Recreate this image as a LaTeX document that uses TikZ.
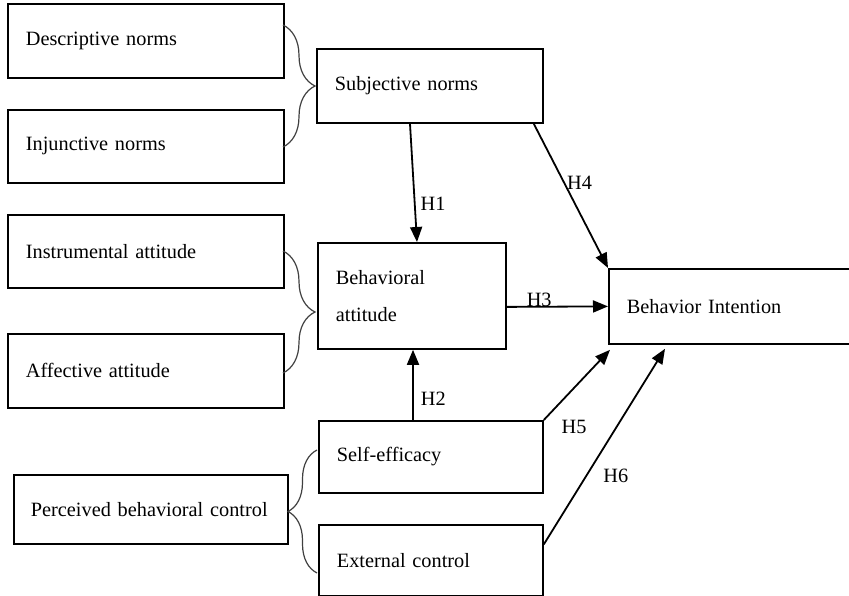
\documentclass[tikz,border=0pt]{standalone}
\usepackage{fontspec}
\setmainfont{Liberation Serif}
\usetikzlibrary{arrows.meta,calc,decorations.pathreplacing}

\begin{document}
\begin{tikzpicture}[x=1pt, y=-1pt, font=\fontsize{20.3}{24.5}\selectfont,
    box/.style={draw, line width=1.8pt, anchor=north west, align=left, inner xsep=18pt, inner ysep=0pt},
    arr/.style={line width=1.8pt, -{Triangle[length=15pt,width=12pt]}},
    brc/.style={line width=1.2pt, black!75, decorate, decoration={brace, amplitude=#1}},
    hyp/.style={inner sep=0pt, anchor=west}]
    \useasboundingbox (0,0) rectangle (849,596);
    % left column
    \node[box, text width=240pt, minimum height=74pt] (desc) at (7,3) {Descriptive norms};
    \node[box, text width=240pt, minimum height=73pt] (inj) at (7,109) {Injunctive norms};
    \node[box, text width=240pt, minimum height=73pt] (inst) at (7,214) {Instrumental attitude};
    \node[box, text width=240pt, minimum height=74pt] (aff) at (7,333) {Affective attitude};
    \node[box, inner xsep=17pt, text width=240pt, minimum height=69pt] (pbc) at (13,474) {Perceived behavioral control};
    % middle column
    \node[box, text width=190pt, minimum height=74pt] (subj) at (316,48) {Subjective norms};
    \node[box, text width=152pt, minimum height=106pt] (batt) at (317,242) {Behavioral\\[12pt]attitude};
    \node[box, text width=188pt, minimum height=72pt] (self) at (318,420) {Self-efficacy};
    \node[box, text width=188pt, minimum height=71pt] (ext) at (318,524) {External control};
    % outcome
    \node[box, text width=214pt, minimum height=75pt] (bi) at (608,268) {Behavior Intention};
    % braces
    \coordinate (b1a) at (283,25);
    \coordinate (b1b) at (283,147);
    \coordinate (b2a) at (283,251);
    \coordinate (b2b) at (283,373);
    \coordinate (b3a) at (317,573);
    \coordinate (b3b) at (317,450);
    \draw[brc=32pt] (b1a) -- (b1b);
    \draw[brc=32pt] (b2a) -- (b2b);
    \draw[brc=29pt] (b3a) -- (b3b);
    % hypotheses
    \draw[arr] ($(subj.south west)+(94,0)$) -- node[hyp, pos=0.675, xshift=5pt]{H1} ($(batt.north west)+(100,0)$);
    \draw[arr] ($(self.north west)+(95,0)$) -- node[hyp, pos=0.3, xshift=7pt]{H2} ($(batt.south west)+(96,0)$);
    \draw[arr] ($(batt.east)+(0,11)$) -- node[pos=0.32, yshift=7pt, inner sep=0pt]{H3} (bi.west);
    \draw[arr] ($(subj.south east)+(-10,0)$) -- node[hyp, pos=0.41, xshift=2pt]{H4} (bi.north west);
    \draw[arr] (self.north east) -- node[hyp, pos=0, xshift=17pt, yshift=-7pt]{H5} ($(bi.south west)+(2,5)$);
    \draw[arr] ($(ext.east)+(0,-16)$) -- node[hyp, pos=0.352, xshift=16pt]{H6} ($(bi.south west)+(57,4)$);
\end{tikzpicture}
\end{document}
